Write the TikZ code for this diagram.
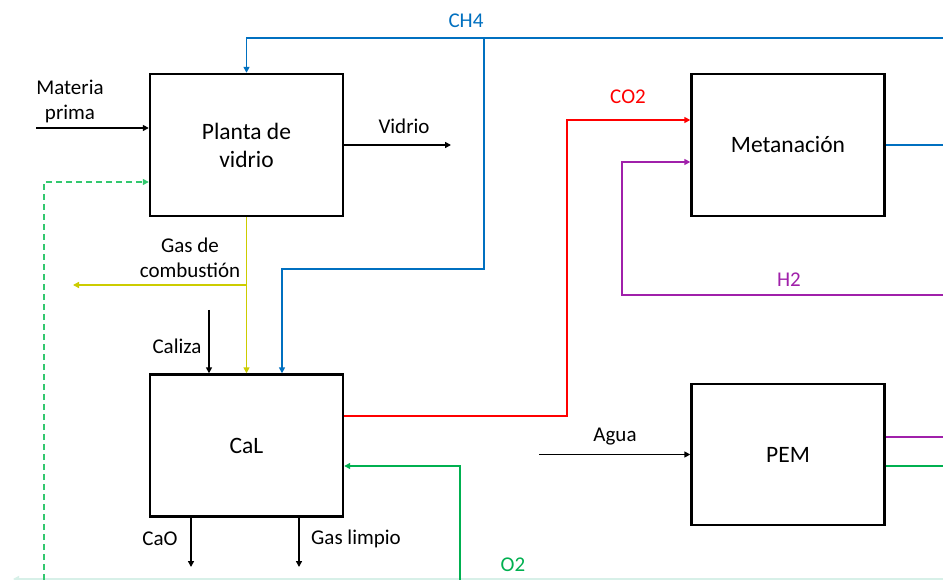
\documentclass[tikz,border=0pt]{standalone}
\usepackage{fontspec}
\setmainfont{Carlito}
\usetikzlibrary{arrows.meta}
\definecolor{cblue}{RGB}{0,112,192}
\definecolor{cyellow}{RGB}{204,204,0}
\definecolor{cred}{RGB}{255,0,0}
\definecolor{cpurple}{RGB}{160,32,170}
\definecolor{cgreen}{RGB}{0,176,80}
\definecolor{cdgreen}{RGB}{50,200,110}
\definecolor{cfaint}{RGB}{215,240,232}
\begin{document}
\begin{tikzpicture}[x=1pt,y=-1pt,
  box/.style={draw, line width=2.4pt, minimum width=193pt, minimum height=142pt, inner sep=0pt,
    font=\fontsize{23.5}{28}\selectfont, align=center},
  lbl/.style={inner sep=0pt, font=\fontsize{21}{25}\selectfont, align=center},
  line/.style={line width=1.8pt},
  flow/.style={line width=1.8pt, -{Triangle[length=6pt,width=6pt]}}]
\useasboundingbox (0,0) rectangle (943,580);
\fill[white] (0,0) rectangle (943,580);

% boxes
\node[box] (pv) at (246.5,145) {Planta de\\vidrio};
\node[box] (cal) at (246.5,445.5) {CaL};
\node[box] (met) at (788,145) {Metanación};
\node[box, minimum height=141pt] (pem) at (788,454.5) {PEM};

% free ends and junctions
\coordinate (mp) at (36,128);
\coordinate (vd) at (451,145);
\coordinate (ch4r) at (943,38);
\coordinate (ch4j) at (484,38);
\coordinate (ch4k) at (484,269);
\coordinate (gj) at (246.5,285);
\coordinate (ge) at (73,285);
\coordinate (cz) at (209,310);
\coordinate (rc) at (567,120);
\coordinate (h2r) at (943,295);
\coordinate (h2c) at (622,295);
\coordinate (ag) at (539,454.5);
\coordinate (o2b) at (460,580);
\coordinate (db) at (44,580);
\coordinate (caoe) at (191,567);
\coordinate (gle) at (299,567);
\coordinate (rend) at (943,0);
\coordinate (fr) at (943,579);
\coordinate (fl) at (13,579);

% faint bottom line
\draw[line width=1.5pt, cfaint, -{Triangle[length=6pt,width=6pt]}] (fr) -- (fl);

% black flows
\draw[flow] (mp) -- (mp -| pv.west);
\draw[flow] (pv.east) -- (vd);
\draw[flow] (cz) -- (cz |- cal.north);
\draw[flow] (ag) -- (pem.west);
\draw[flow] (caoe |- cal.south) -- (caoe);
\draw[flow] (gle |- cal.south) -- (gle);

% CH4
\draw[flow, cblue] (ch4r) -- (pv.north |- ch4r) -- (pv.north);
\draw[flow, cblue] (ch4j) -- (ch4k) -| ([xshift=35.5pt]cal.north);
\draw[line, cblue] (met.east) -- (met.east -| rend);

% combustion gas
\draw[flow, cyellow] (pv.south) -- (cal.north);
\draw[flow, cyellow] (gj) -- (ge);

% CO2
\draw[flow, cred] ([yshift=29.5pt]cal.east) -| (rc) -- ([yshift=25pt]met.west);

% H2
\draw[flow, cpurple] (h2r) -- (h2c) |- ([yshift=-17pt]met.west);
\draw[line, cpurple] ([yshift=17.5pt]pem.east) -- ([yshift=17.5pt]pem.east -| rend);

% O2
\draw[line, cgreen] ([yshift=-11.5pt]pem.east) -- ([yshift=-11.5pt]pem.east -| rend);
\draw[flow, cgreen] (o2b) |- ([yshift=-20.5pt]cal.east);

% dashed recycle
\draw[flow, cdgreen, line width=1.3pt, dash pattern=on 6pt off 4pt] (db) |- ([yshift=-37pt]pv.west);

% labels
\node[lbl] at (70,101) {Materia\\prima};
\node[lbl] at (404,126) {Vidrio};
\node[lbl, text=cblue] at (466,21) {CH4};
\node[lbl] at (190,258) {Gas de\\combustión};
\node[lbl] at (177,346) {Caliza};
\node[lbl, text=cred] at (628,97) {CO2};
\node[lbl, text=cpurple] at (789,280) {H2};
\node[lbl] at (615,437) {Agua};
\node[lbl, text=cgreen] at (513,565) {O2};
\node[lbl] at (160,539) {CaO};
\node[lbl] at (356,539) {Gas limpio};
\end{tikzpicture}
\end{document}
